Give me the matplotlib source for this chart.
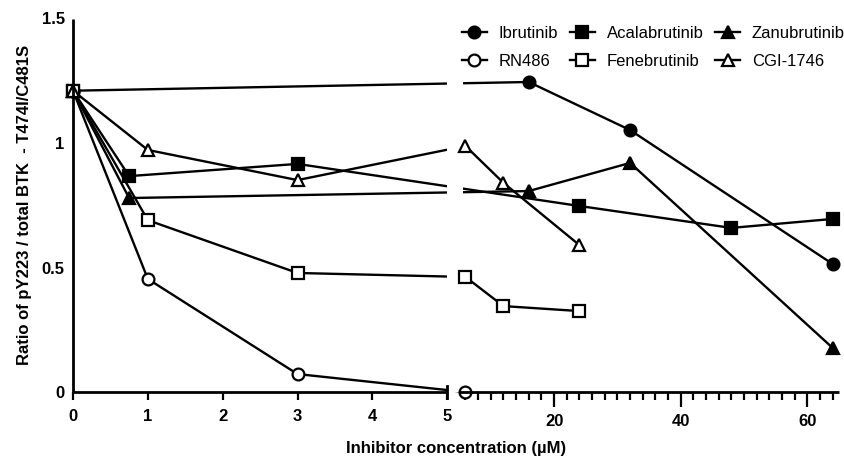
import numpy as np
import matplotlib
matplotlib.use("Agg")
import matplotlib.pyplot as plt
from matplotlib.lines import Line2D
from matplotlib.ticker import FixedLocator, FixedFormatter

plt.rcParams['font.family'] = ['Liberation Sans', 'DejaVu Sans']

# concentrations (uM) and ratios
ibru_x = [0, 16, 32, 64]
ibru_y = [1.21, 1.245, 1.052, 0.514]
acala_x = [0, 0.75, 3, 24, 48, 64]
acala_y = [1.21, 0.867, 0.916, 0.747, 0.659, 0.695]
zanu_x = [0, 0.75, 16, 32, 64]
zanu_y = [1.21, 0.779, 0.807, 0.92, 0.177]
rn_x = [0, 1, 3, 6]
rn_y = [1.21, 0.454, 0.072, 0.0]
fene_x = [0, 1, 3, 6, 12, 24]
fene_y = [1.21, 0.69, 0.478, 0.462, 0.345, 0.325]
cgi_x = [0, 1, 3, 6, 12, 24]
cgi_y = [1.21, 0.972, 0.851, 0.988, 0.84, 0.59]

names = ['Ibrutinib', 'Acalabrutinib', 'Zanubrutinib', 'RN486', 'Fenebrutinib', 'CGI-1746']

# broken x axis: 0-5 linear, then 5-65 compressed after a small gap
BRK = 5.0
GAP = 0.16
SQ = 0.0846


def fwd(x):
    x = np.asarray(x, dtype=float)
    return np.where(x <= BRK, x, BRK + GAP + (x - BRK) * SQ)


def inv(u):
    u = np.asarray(u, dtype=float)
    return np.where(u <= BRK, u,
                    np.where(u < BRK + GAP, BRK, BRK + (u - BRK - GAP) / SQ))


fig = plt.figure(figsize=(8.45, 4.59), dpi=100)
ax = fig.add_axes([73 / 845, 67 / 459, 766 / 845, 373.5 / 459])
ax.set_xscale('function', functions=(fwd, inv))
ax.set_xlim(0, 65)
ax.set_ylim(0, 1.5)

series = [
    (ibru_x, ibru_y, 'o', 'black'),
    (acala_x, acala_y, 's', 'black'),
    (zanu_x, zanu_y, '^', 'black'),
    (rn_x, rn_y, 'o', 'white'),
    (fene_x, fene_y, 's', 'white'),
    (cgi_x, cgi_y, '^', 'white'),
]

lw = 1.7
ms = {'o': 8.5, 's': 8.5, '^': 9}
for x, y, m, fc in series:
    ax.plot(x, y, '-', color='black', lw=lw, zorder=2, clip_on=False)
for x, y, m, fc in series:
    ax.plot(x, y, linestyle='none', marker=m, ms=ms[m], mfc=fc, mec='black',
            mew=1.6, zorder=3, clip_on=False)

# blank the lines across the axis break
ax.axvspan(5.0, 5.6, color='white', lw=0, zorder=2.5)

# axes lines drawn by hand because of the break
for s in ax.spines.values():
    s.set_visible(False)
ax.plot([0, 0], [0, 1.5], color='black', lw=2, zorder=4, clip_on=False,
        solid_capstyle='butt')
ax.plot([0, 5], [0, 0], color='black', lw=2, zorder=4, clip_on=False,
        solid_capstyle='butt')
ax.plot([np.nextafter(5, 6), 65], [0, 0], color='black', lw=2, zorder=4,
        clip_on=False, solid_capstyle='butt')
ax.plot([5, 5], [-0.025, 0.025], color='black', lw=2, zorder=4, clip_on=False)

# ticks
ax.xaxis.set_major_locator(FixedLocator([20, 40, 60]))
ax.xaxis.set_major_formatter(FixedFormatter(['20', '40', '60']))
minor = [0, 1, 2, 3, 4, 5] + [v for v in range(6, 65, 2) if v % 20 != 0]
ax.xaxis.set_minor_locator(FixedLocator(minor))
ax.xaxis.set_minor_formatter(FixedFormatter(['0', '1', '2', '3', '4', '5'] + [''] * (len(minor) - 6)))
ax.tick_params(axis='x', which='major', length=11, width=1.6, pad=4.5,
               labelsize=12, direction='out')
ax.tick_params(axis='x', which='minor', length=6, width=1.6, pad=6,
               labelsize=12, direction='out')
ax.set_yticks([0, 0.5, 1, 1.5])
ax.set_yticklabels(['0', '0.5', '1', '1.5'])
ax.tick_params(axis='y', length=0, pad=6, labelsize=12)
for lab in ax.get_xticklabels(which='both') + ax.get_yticklabels():
    lab.set_fontweight('bold')

ax.set_xlabel('Inhibitor concentration (µM)', fontsize=12, fontweight='bold',
              labelpad=9)
ax.set_ylabel('Ratio of pY223 / total BTK  - T474I/C481S', fontsize=12,
              fontweight='bold', labelpad=7)

# legend, filled row by row like the original
handles = []
for x, y, m, fc in series:
    handles.append(Line2D([], [], color='black', lw=lw, marker=m, ms=ms[m],
                          mfc=fc, mec='black', mew=1.6))
order = [0, 3, 1, 4, 2, 5]
ax.legend([handles[i] for i in order], [names[i] for i in order], ncol=3,
          frameon=False, fontsize=12,
          loc='upper left', bbox_to_anchor=(462 / 845, 1 - 26 / 459),
          bbox_transform=fig.transFigure, borderpad=0, borderaxespad=0,
          handlelength=1.5, handletextpad=0.7, columnspacing=0.7,
          labelspacing=0.75)

fig.savefig('out.png', dpi=100)
